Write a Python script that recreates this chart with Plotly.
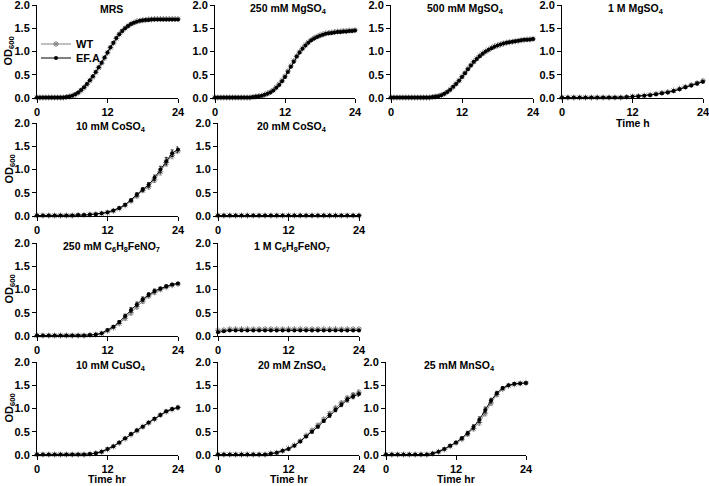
import plotly.graph_objects as go

# ---------------- data ----------------
t_half = [i * 0.5 for i in range(49)]   # 0..24 h every 0.5 h
t_hour = list(range(25))                 # 0..24 h every 1 h

mrs_efa = [0.01]*9 + [0.01,0.02,0.03,0.05,0.08,0.12,0.17,0.23,0.30,0.38,0.47,0.56,0.66,0.76,0.87,0.98,1.09,1.19,1.29,1.37,1.44,1.50,1.55,1.59,1.62,1.64,1.66,1.67,1.68] + [1.68,1.69,1.69,1.69,1.69,1.69,1.69,1.69,1.69,1.69,1.69]
mrs_wt = [0.01]*9 + [0.01,0.02,0.03,0.05,0.07,0.11,0.16,0.22,0.29,0.37,0.45,0.55,0.65,0.75,0.86,0.97,1.08,1.18,1.28,1.37,1.44,1.50,1.55,1.59,1.62,1.65,1.66,1.67,1.68] + [1.69,1.69,1.70,1.70,1.70,1.70,1.70,1.70,1.70,1.70,1.70]

mg250_efa = [0.01]*13 + [0.02,0.03,0.04,0.05,0.07,0.09,0.12,0.16,0.22,0.28,0.36,0.45,0.56,0.67,0.78,0.89,0.98,1.06,1.13,1.19,1.24,1.28,1.31,1.34,1.36,1.38,1.39,1.40,1.41,1.42,1.42,1.43,1.43,1.44,1.44,1.45]
mg250_wt = [0.01]*13 + [0.02,0.03,0.04,0.05,0.07,0.10,0.13,0.17,0.23,0.30,0.38,0.47,0.58,0.69,0.80,0.90,0.99,1.07,1.14,1.20,1.25,1.29,1.32,1.35,1.37,1.39,1.40,1.41,1.42,1.43,1.43,1.44,1.44,1.45,1.45,1.46]

mg500_efa = [0.01]*14 + [0.02,0.03,0.04,0.06,0.09,0.13,0.18,0.24,0.30,0.37,0.45,0.53,0.62,0.70,0.78,0.84,0.90,0.95,1.00,1.04,1.07,1.10,1.13,1.15,1.17,1.19,1.20,1.21,1.22,1.23,1.24,1.25,1.25,1.26,1.27]
mg500_wt = [0.01]*14 + [0.02,0.03,0.04,0.06,0.09,0.13,0.18,0.24,0.31,0.38,0.46,0.54,0.63,0.71,0.78,0.85,0.91,0.96,1.00,1.04,1.08,1.11,1.13,1.15,1.17,1.19,1.20,1.21,1.22,1.23,1.24,1.25,1.26,1.26,1.27]

mg1m_efa = [0.01]*11 + [0.02,0.03,0.04,0.05,0.06,0.08,0.10,0.12,0.15,0.19,0.23,0.27,0.31,0.35]
mg1m_wt = [0.01]*11 + [0.02,0.03,0.04,0.05,0.07,0.09,0.11,0.13,0.16,0.20,0.24,0.28,0.32,0.37]
mg1m_err = [0.005]*11 + [0.01,0.01,0.01,0.01,0.01,0.015,0.015,0.02,0.02,0.02,0.025,0.025,0.03,0.03]

co10_efa = [0.01]*7 + [0.02,0.02,0.03,0.04,0.06,0.08,0.12,0.17,0.24,0.34,0.46,0.57,0.67,0.82,1.00,1.18,1.35,1.43]
co10_wt = [0.01]*7 + [0.02,0.02,0.03,0.04,0.05,0.07,0.11,0.16,0.23,0.32,0.43,0.55,0.63,0.78,0.95,1.15,1.30,1.40]
co10_err = [0.005]*7 + [0.005,0.005,0.01,0.01,0.01,0.01,0.015,0.02,0.02,0.03,0.04,0.04,0.05,0.06,0.07,0.08,0.07,0.06]

co20_efa = [0.01]*25
co20_wt = [0.01]*25
co20_err = [0.005]*25

fe250_efa = [0.01]*9 + [0.02,0.03,0.06,0.13,0.20,0.30,0.43,0.56,0.68,0.79,0.89,0.97,1.02,1.07,1.11,1.13]
fe250_wt = [0.01]*9 + [0.02,0.03,0.05,0.11,0.18,0.27,0.38,0.50,0.63,0.75,0.86,0.94,1.00,1.05,1.09,1.12]
fe250_err = [0.005]*9 + [0.005,0.01,0.01,0.015,0.02,0.03,0.04,0.05,0.05,0.05,0.04,0.04,0.03,0.03,0.02,0.02]

fe1m_efa = [0.08,0.10] + [0.12]*23
fe1m_wt = [0.12,0.13] + [0.15]*23
fe1m_err = [0.01]*25

cu10_efa = [0.01]*9 + [0.02,0.04,0.07,0.13,0.19,0.27,0.36,0.45,0.53,0.61,0.70,0.78,0.86,0.94,0.99,1.02]
cu10_wt = [0.01]*9 + [0.02,0.04,0.07,0.12,0.18,0.26,0.35,0.44,0.52,0.61,0.69,0.77,0.86,0.93,0.98,1.02]
cu10_err = [0.005]*9 + [0.005,0.005,0.01,0.01,0.01,0.015,0.015,0.02,0.02,0.02,0.02,0.02,0.02,0.02,0.02,0.03]

zn20_efa = [0.01]*9 + [0.03,0.05,0.09,0.13,0.20,0.29,0.40,0.50,0.61,0.73,0.85,0.97,1.08,1.19,1.26,1.31]
zn20_wt = [0.01]*9 + [0.03,0.05,0.09,0.14,0.21,0.30,0.42,0.53,0.64,0.77,0.89,1.01,1.12,1.22,1.29,1.35]
zn20_err = [0.005]*9 + [0.005,0.01,0.01,0.01,0.015,0.02,0.02,0.03,0.03,0.03,0.04,0.04,0.04,0.05,0.05,0.05]

mn25_efa = [0.01]*8 + [0.03,0.07,0.13,0.20,0.27,0.36,0.47,0.60,0.76,0.97,1.17,1.33,1.44,1.50,1.53,1.54,1.55]
mn25_wt = [0.01]*8 + [0.03,0.07,0.12,0.19,0.26,0.34,0.45,0.57,0.70,0.90,1.12,1.30,1.42,1.49,1.52,1.54,1.55]
mn25_err = [0.005]*8 + [0.01,0.01,0.01,0.015,0.02,0.03,0.04,0.05,0.06,0.06,0.05,0.04,0.03,0.02,0.02,0.02,0.02]

x_ticks = [0, 12, 24]
y_ticks = [0, 0.5, 1.0, 1.5, 2.0]

# ------------- layout geometry (pixels) -------------
W, H = 709, 486
FONT = "Arial, Liberation Sans, sans-serif"

panels = [
    # title, t, wt, efa, err, x0, x1, ytop, ybot, ylabel, xlabel
    ("MRS", t_half, mrs_wt, mrs_efa, None, 37, 178, 5, 98, True, None),
    ("250 mM MgSO<sub>4</sub>", t_half, mg250_wt, mg250_efa, None, 215, 355, 5, 98, False, None),
    ("500 mM MgSO<sub>4</sub>", t_half, mg500_wt, mg500_efa, None, 391, 533, 5, 98, False, None),
    ("1 M MgSO<sub>4</sub>", t_hour, mg1m_wt, mg1m_efa, mg1m_err, 562, 703, 5, 98, False, "Time h"),
    ("10 mM CoSO<sub>4</sub>", t_hour, co10_wt, co10_efa, co10_err, 37, 178, 123, 216, True, None),
    ("20 mM CoSO<sub>4</sub>", t_hour, co20_wt, co20_efa, co20_err, 218, 359, 123, 216, False, None),
    ("250 mM C<sub>6</sub>H<sub>8</sub>FeNO<sub>7</sub>", t_hour, fe250_wt, fe250_efa, fe250_err, 37, 178, 243, 336, True, None),
    ("1 M C<sub>6</sub>H<sub>8</sub>FeNO<sub>7</sub>", t_hour, fe1m_wt, fe1m_efa, fe1m_err, 218, 359, 243, 336, False, None),
    ("10 mM CuSO<sub>4</sub>", t_hour, cu10_wt, cu10_efa, cu10_err, 37, 178, 362, 455, True, "Time hr"),
    ("20 mM ZnSO<sub>4</sub>", t_hour, zn20_wt, zn20_efa, zn20_err, 218, 359, 362, 455, False, "Time hr"),
    ("25 mM MnSO<sub>4</sub>", t_hour, mn25_wt, mn25_efa, mn25_err, 386, 526, 362, 455, False, "Time hr"),
]

fig = go.Figure()
annotations = []
layout_axes = {}

for i, (title, t, wt, efa, err, x0, x1, yt, yb, ylab, xlab) in enumerate(panels):
    n = i + 1
    xa = "x" if n == 1 else f"x{n}"
    ya = "y" if n == 1 else f"y{n}"
    first = (n == 1)
    err_wt = dict(type="data", array=err, color="#808080", thickness=0.8, width=1.5, visible=True) if err else None
    err_efa = dict(type="data", array=err, color="#000000", thickness=0.8, width=1.5, visible=True) if err else None
    fig.add_trace(go.Scatter(
        x=t, y=wt, name="WT", mode="lines+markers", xaxis=xa, yaxis=ya,
        line=dict(color="#808080", width=1),
        marker=dict(symbol="asterisk-open", size=5, color="#808080", line=dict(color="#808080", width=1)),
        error_y=err_wt, showlegend=first, legend="legend", cliponaxis=False))
    fig.add_trace(go.Scatter(
        x=t, y=efa, name="EF.A", mode="lines+markers", xaxis=xa, yaxis=ya,
        line=dict(color="#000000", width=1),
        marker=dict(symbol="circle", size=4, color="#000000"),
        error_y=err_efa, showlegend=first, legend="legend2", cliponaxis=False))

    axis_common = dict(showline=True, linecolor="black", linewidth=1, ticks="outside",
                       ticklen=4, tickwidth=1, tickcolor="black", showgrid=False, zeroline=False,
                       automargin=False, ticklabeloverflow="allow",
                       tickfont=dict(family=FONT, size=11, color="black", weight="bold"))
    layout_axes["xaxis" if n == 1 else f"xaxis{n}"] = dict(
        domain=[x0 / W, x1 / W], anchor=ya, range=[0, 24], tickvals=x_ticks, **axis_common)
    layout_axes["yaxis" if n == 1 else f"yaxis{n}"] = dict(
        domain=[1 - yb / H, 1 - yt / H], anchor=xa, range=[0, 2], tickvals=y_ticks,
        tickformat=".1f", **axis_common)

    annotations.append(dict(text=f"<b>{title}</b>", x=(x0 + x1) / 2 / W + 0.005, y=1 - (yt + 4) / H,
                            xref="paper", yref="paper", showarrow=False,
                            xanchor="center", yanchor="middle",
                            font=dict(family=FONT, size=10.5, color="black")))
    if ylab:
        annotations.append(dict(text="<b>OD<sub>600</sub></b>", x=9 / W, y=1 - (yt + yb) / 2 / H,
                                xref="paper", yref="paper", showarrow=False, textangle=-90,
                                xanchor="center", yanchor="middle",
                                font=dict(family=FONT, size=11, color="black")))
    if xlab:
        if yb + 32 > H:
            ypos, yanc = 0, "bottom"
        else:
            ypos, yanc = 1 - (yb + 25) / H, "middle"
        annotations.append(dict(text=f"<b>{xlab}</b>", x=(x0 + x1) / 2 / W, y=ypos,
                                xref="paper", yref="paper", showarrow=False,
                                xanchor="center", yanchor=yanc, borderpad=0,
                                font=dict(family=FONT, size=10.5, color="black")))

legend_style = dict(xanchor="left", yanchor="middle", bgcolor="rgba(0,0,0,0)", itemwidth=30,
                    font=dict(family=FONT, size=11, color="black", weight="bold"))
fig.update_layout(
    width=W, height=H, margin=dict(l=0, r=0, t=0, b=0),
    paper_bgcolor="white", plot_bgcolor="white",
    annotations=annotations,
    legend=dict(x=36 / W, y=1 - 44 / H, **legend_style),
    legend2=dict(x=36 / W, y=1 - 58 / H, **legend_style),
    **layout_axes)

fig.write_html("out.html", config={"displayModeBar": False},
               post_script="document.body.style.margin='0';document.body.style.overflow='hidden';")
